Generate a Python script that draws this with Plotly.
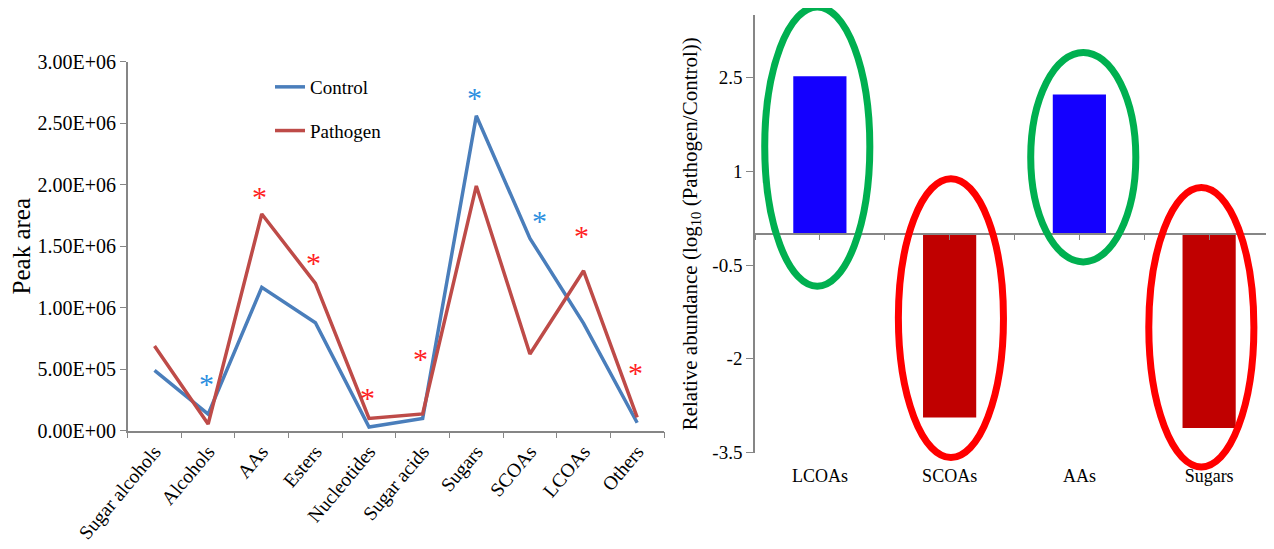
import plotly.graph_objects as go

# ---------------- data ----------------
categories = ["Sugar alcohols", "Alcohols", "AAs", "Esters", "Nucleotides",
              "Sugar acids", "Sugars", "SCOAs", "LCOAs", "Others"]
control = [4.9e5, 1.35e5, 1.166e6, 8.78e5, 3.0e4, 1.0e5, 2.56e6, 1.564e6, 8.73e5, 6.5e4]
pathogen = [6.89e5, 5.4e4, 1.762e6, 1.198e6, 1.0e5, 1.36e5, 1.99e6, 6.24e5, 1.30e6, 1.09e5]

y_tickvals = [0, 5e5, 1e6, 1.5e6, 2e6, 2.5e6, 3e6]
y_ticktext = ["0.00E+00", "5.00E+05", "1.00E+06", "1.50E+06", "2.00E+06", "2.50E+06", "3.00E+06"]

# significance asterisks: category, height, group
star_cats = ["Alcohols", "AAs", "Esters", "Nucleotides", "Sugar acids", "Sugars", "SCOAs", "LCOAs", "Others"]
star_vals = [3.96e5, 1.924e6, 1.382e6, 2.90e5, 6.07e5, 2.729e6, 1.729e6, 1.607e6, 4.93e5]
star_group = ["Control", "Pathogen", "Pathogen", "Pathogen", "Pathogen", "Control", "Control", "Pathogen", "Pathogen"]

rel_cats = ["LCOAs", "SCOAs", "AAs", "Sugars"]
rel_vals = [2.52, -2.94, 2.23, -3.11]
rel_tickvals = [-3.5, -2, -0.5, 1, 2.5]
rel_ticktext = ["-3.5", "-2", "-0.5", "1", "2.5"]
# hand-drawn ellipses around the bars (data units on the right axis)
ell_top = [3.63, 0.88, 2.90, 0.74]
ell_bottom = [-0.84, -3.58, -0.45, -3.73]
ell_shift = [-0.02, 0.01, 0.03, -0.06]

# ---------------- styles / layout ----------------
FONT = "Liberation Serif"
AX = "#868686"
C_CTRL = "#4A7EBB"
C_PATH = "#BE4B48"
STAR_COL = {"Control": "#2B8FDF", "Pathogen": "#FF1F1F"}

OFF = 8                      # page body margin
W, H = 1274 - OFF, 549 - OFF


def px(x):
    return (x - OFF) / W


def py(y):
    return 1 - (y - OFF) / H


L_DOM_X = [px(127.7), px(664)]
L_DOM_Y = [py(430.7), py(61.7)]
R_DOM_X = [px(755), 1.0]
R_DOM_Y = [py(452.5), py(15)]
R_RANGE = [-3.5, 3.5]

fig = go.Figure()
fig.add_trace(go.Scatter(x=categories, y=control, mode="lines", name="Control",
                         line=dict(color=C_CTRL, width=3.5), legendgroup="a",
                         xaxis="x", yaxis="y"))
fig.add_trace(go.Scatter(x=categories, y=pathogen, mode="lines", name="Pathogen",
                         line=dict(color=C_PATH, width=3.5), legendgroup="b",
                         xaxis="x", yaxis="y"))

fig.add_trace(go.Bar(x=rel_cats, y=rel_vals, width=0.41,
                     marker=dict(color=["#1400FF" if v > 0 else "#C00000" for v in rel_vals],
                                 line=dict(width=0)),
                     showlegend=False, xaxis="x2", yaxis="y2"))
# carrier trace so that the zero-crossing axis (x3) is drawn
fig.add_trace(go.Scatter(x=[0], y=[0], mode="markers", marker=dict(opacity=0),
                         showlegend=False, hoverinfo="skip", xaxis="x3", yaxis="y2"))

annotations = []
for c, v, g in zip(star_cats, star_vals, star_group):
    annotations.append(dict(x=c, y=v, xref="x", yref="y", text="*", showarrow=False,
                            xshift=10 if c == "SCOAs" else -2, yshift=-2,
                            font=dict(family=FONT, size=30, color=STAR_COL[g]),
                            xanchor="center", yanchor="middle"))

shapes = []
n = len(rel_cats)
for i, (t, b, s) in enumerate(zip(ell_top, ell_bottom, ell_shift)):
    cx = (i + 0.5 + s) / n
    hw = 0.405 / n
    y0 = (b - R_RANGE[0]) / (R_RANGE[1] - R_RANGE[0])
    y1 = (t - R_RANGE[0]) / (R_RANGE[1] - R_RANGE[0])
    col = "#00B050" if rel_vals[i] > 0 else "#FF0000"
    shapes.append(dict(type="circle", xref="x2 domain", yref="y2 domain",
                       x0=cx - hw, x1=cx + hw, y0=y0, y1=y1,
                       line=dict(color=col, width=7), layer="above"))

zero_pos = R_DOM_Y[0] + (0 - R_RANGE[0]) / (R_RANGE[1] - R_RANGE[0]) * (R_DOM_Y[1] - R_DOM_Y[0])

fig.update_layout(
    width=W, height=H,
    margin=dict(l=0, r=0, t=0, b=0, autoexpand=False),
    paper_bgcolor="white", plot_bgcolor="white",
    font=dict(family=FONT, size=19, color="black"),
    showlegend=True,
    legend=dict(x=px(270), y=py(68), xanchor="left", yanchor="top",
                bgcolor="rgba(0,0,0,0)", font=dict(size=19, family=FONT),
                traceorder="grouped", tracegroupgap=16),
    xaxis=dict(domain=L_DOM_X, anchor="y", type="category", range=[-0.5, 9.5],
               showline=True, linecolor=AX, linewidth=1.5, ticks="outside", ticklen=6,
               tickcolor=AX, tickson="boundaries", tickangle=-50, automargin=False,
               tickfont=dict(size=19.5, family=FONT), showgrid=False, zeroline=False),
    yaxis=dict(domain=L_DOM_Y, anchor="x", range=[0, 3e6], tickvals=y_tickvals,
               ticktext=y_ticktext, showline=True, linecolor=AX, linewidth=1.5,
               ticks="outside", ticklen=6, tickcolor=AX, showgrid=False, zeroline=False,
               tickfont=dict(size=20, family=FONT), automargin=False,
               title=dict(text="Peak area", font=dict(size=25, family=FONT), standoff=12)),
    xaxis2=dict(domain=R_DOM_X, anchor="y2", type="category", range=[-0.5, 3.5],
                showline=False, ticks="", showgrid=False, zeroline=False, automargin=False,
                tickfont=dict(size=18, family=FONT), ticklabelstandoff=10),
    xaxis3=dict(overlaying="x2", anchor="free", position=zero_pos, range=[-0.5, 3.5],
                tick0=0, dtick=0.5, ticks="outside", ticklen=5, tickcolor=AX,
                showticklabels=False, showline=True, linecolor=AX, linewidth=1.5,
                showgrid=False, zeroline=False, automargin=False),
    yaxis2=dict(domain=R_DOM_Y, anchor="x2", range=R_RANGE, tickvals=rel_tickvals,
                ticktext=rel_ticktext,
                showline=True, linecolor=AX, linewidth=1.5, ticks="outside", ticklen=7,
                tickcolor=AX, showgrid=False, zeroline=False, automargin=False,
                tickfont=dict(size=19, family=FONT),
                title=dict(text="Relative abundance (log<sub>10</sub> (Pathogen/Control))",
                           font=dict(size=21, family=FONT), standoff=9)),
    annotations=annotations,
    shapes=shapes,
)

fig.write_html("out.html")
